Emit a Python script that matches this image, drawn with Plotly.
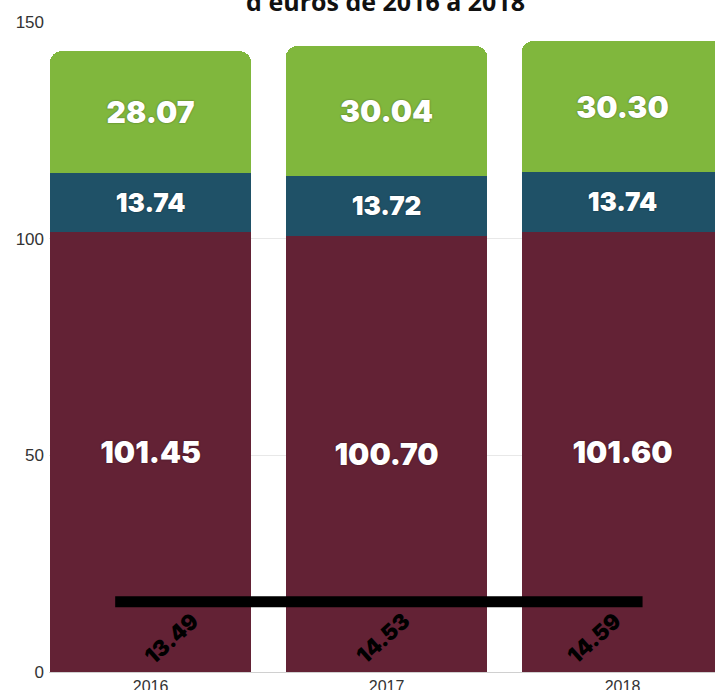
import plotly.graph_objects as go

years = ["2016", "2017", "2018"]
maroon_vals = [101.45, 100.70, 101.60]
teal_vals = [13.74, 13.72, 13.74]
green_vals = [28.07, 30.04, 30.30]
rotated_labels = ["13.49", "14.53", "14.59"]
line_level = 16.2
line_span = (-0.15, 2.085)
rotated_label_x = [0.09, 0.985, 1.88]
rotated_label_level = 7.8
y_ticks = [0, 50, 100, 150]
title_text = "d'euros de 2016 à 2018"

MAROON = "#632235"
TEAL = "#1F5167"
GREEN = "#80B73D"

label_font = dict(family="Inter, Lato, DejaVu Sans", color="white", weight=900,
                  shadow="0px 0px 2px rgba(0,0,0,0.45)")

fig = go.Figure()
for vals, color, size in [(maroon_vals, MAROON, 30), (teal_vals, TEAL, 26), (green_vals, GREEN, 30)]:
    fig.add_trace(go.Bar(
        x=years, y=vals, marker=dict(color=color, line=dict(width=0)),
        width=0.855,
        texttemplate="%{y:.2f}", textposition="inside", insidetextanchor="middle",
        textangle=0, constraintext="none",
        textfont=dict(size=size, **label_font),
        hoverinfo="skip", showlegend=False,
    ))

fig.add_shape(type="line", xref="x", yref="y", x0=line_span[0], x1=line_span[1],
              y0=line_level, y1=line_level, line=dict(color="black", width=11),
              layer="above")

annotations = []
for xpos, lab in zip(rotated_label_x, rotated_labels):
    annotations.append(dict(x=xpos, y=rotated_label_level, xref="x", yref="y", text=lab,
                            showarrow=False, textangle=-42,
                            font=dict(family="Inter, Lato, DejaVu Sans", size=22,
                                      color="black", weight=900)))

annotations.append(dict(x=0.506, y=1.003, xref="paper", yref="paper", text=title_text,
                        showarrow=False, xanchor="center", yanchor="bottom",
                        font=dict(family="Open Sans", size=25, color="#111", weight="bold")))

fig.update_layout(
    width=715, height=690,
    margin=dict(l=49, r=0, t=22, b=18),
    barmode="stack", bargap=0.145, barcornerradius=12,
    plot_bgcolor="white", paper_bgcolor="white",
    annotations=annotations,
    xaxis=dict(type="category", range=[-0.4305, 2.392], showgrid=False,
               showline=True, linecolor="#d0d0d0", linewidth=1,
               ticks="", tickfont=dict(family="Liberation Sans, Arial", size=16, color="#333"),
               automargin=False, fixedrange=True),
    yaxis=dict(range=[0, 150], tickvals=y_ticks, showgrid=True, gridcolor="#e8e8e8",
               zeroline=False, showline=False, ticks="", ticklabelstandoff=4,
               tickfont=dict(family="Liberation Sans, Arial", size=17, color="#333"),
               automargin=False, fixedrange=True),
)

fig.write_html("out.html")
